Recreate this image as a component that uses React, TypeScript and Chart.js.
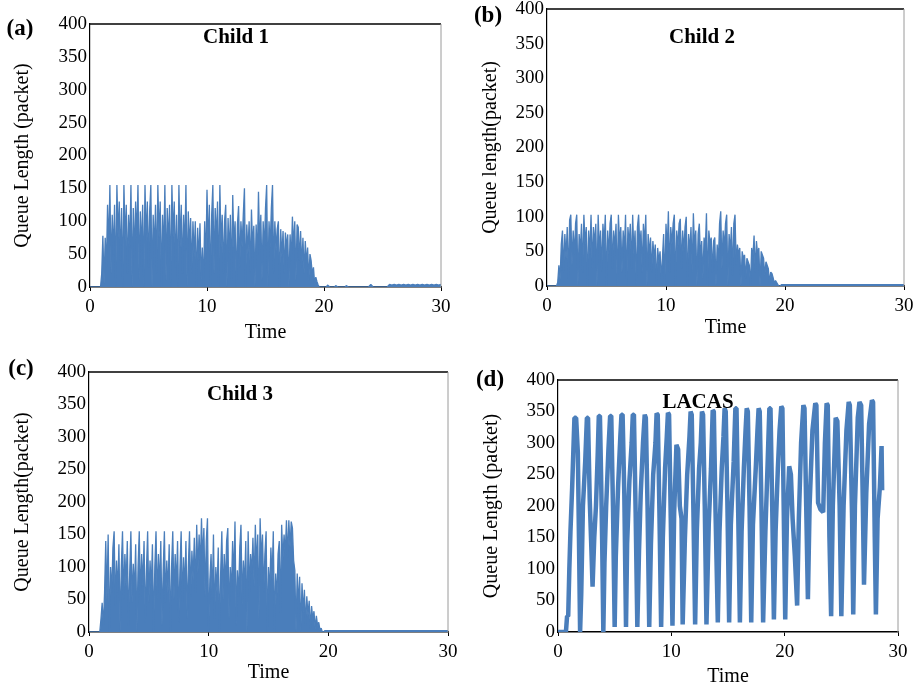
import React, { useEffect, useRef } from "react";
import { Chart, registerables } from "chart.js";
Chart.register(...registerables);

const BLUE = "#4A7EBB";
const FONT = '"Liberation Serif", "Times New Roman", serif';

const xTickValues = [0, 10, 20, 30];
const yTickValues = [0, 50, 100, 150, 200, 250, 300, 350, 400];

const sampleStep = 0.1;

// Child 1 — samples every 0.1 s starting at 0.9 s
const child1Start = 0.9;
const child1Queue = [
  0, 20, 78, 5, 75, 30, 125, 60, 155, 20, 110, 50, 125, 0, 155, 75, 130, 40, 120, 0,
  155, 70, 125, 20, 110, 60, 155, 0, 120, 45, 130, 75, 155, 10, 115, 55, 125, 0, 155, 70,
  130, 30, 115, 155, 0, 110, 55, 125, 20, 155, 75, 130, 0, 110, 50, 155, 10, 120, 65, 125,
  0, 155, 75, 130, 30, 110, 0, 155, 60, 125, 20, 110, 55, 155, 0, 115, 60, 105, 20, 100,
  45, 100, 0, 90, 40, 97, 10, 60, 0, 100, 35, 148, 60, 125, 0, 110, 155, 20, 120, 70,
  130, 0, 155, 60, 110, 20, 100, 125, 0, 105, 50, 110, 10, 140, 60, 100, 0, 95, 123, 30,
  100, 60, 110, 150, 0, 95, 50, 100, 20, 118, 60, 93, 0, 95, 40, 145, 65, 110, 10, 100,
  55, 120, 155, 0, 100, 60, 120, 155, 20, 100, 55, 88, 100, 0, 88, 45, 85, 20, 83, 60,
  80, 0, 80, 40, 107, 60, 100, 10, 95, 91, 40, 85, 30, 75, 20, 70, 35, 60, 10, 50,
  40, 20, 30, 5, 15, 8, 3, 0,
];
const child1IdleTime = [0, 19.8, 20.2, 20.3, 20.5, 20.9, 21.0, 21.2, 21.8, 21.9, 22.1, 23.8, 24.0, 24.2, 25.4, 25.6, 25.8, 26.0, 26.2, 26.4, 26.6, 26.8, 27.0, 27.2, 27.4, 27.6, 27.8, 28.0, 28.2, 28.4, 28.6, 28.8, 29.0, 29.2, 29.4, 29.6, 29.8, 30];
const child1IdleQueue = [0, 0, 0, 3, 0, 0, 2, 0, 0, 2, 0, 0, 4, 0, 0, 4, 3, 4, 3, 4, 3, 4, 3, 4, 3, 4, 3, 4, 3, 4, 3, 4, 3, 4, 3, 4, 3, 4];

// Child 2 — samples every 0.1 s starting at 0.8 s
const child2Start = 0.8;
const child2Queue = [
  0, 5, 30, 10, 60, 80, 20, 75, 40, 85, 10, 95, 103, 30, 80, 45, 90, 103, 0, 75,
  50, 90, 20, 103, 60, 85, 0, 80, 45, 103, 25, 85, 60, 90, 0, 103, 50, 80, 20, 90,
  60, 103, 0, 80, 45, 90, 103, 25, 80, 55, 90, 0, 103, 60, 85, 20, 80, 50, 103, 0,
  85, 60, 90, 25, 103, 45, 80, 0, 85, 103, 55, 80, 20, 90, 60, 103, 0, 75, 45, 70,
  20, 65, 40, 60, 0, 55, 35, 50, 10, 40, 75, 0, 90, 50, 108, 20, 85, 60, 90, 103,
  0, 80, 55, 90, 97, 25, 80, 50, 85, 100, 0, 75, 50, 85, 20, 105, 55, 80, 0, 75,
  90, 40, 65, 10, 70, 50, 105, 0, 80, 60, 70, 20, 65, 70, 0, 60, 35, 90, 108, 25,
  80, 55, 90, 103, 0, 75, 50, 85, 15, 90, 103, 30, 60, 45, 55, 0, 50, 40, 45, 10,
  40, 35, 30, 0, 55, 40, 73, 20, 65, 45, 55, 0, 50, 45, 40, 15, 35, 30, 25, 5,
  20, 18, 12, 4, 8, 5, 2, 0,
];
const child2IdleTime = [0, 19.6, 19.7, 30];
const child2IdleQueue = [0, 0, 2, 2];

// Child 3 — samples every 0.1 s starting at 0.9 s
const child3Start = 0.9;
const child3Queue = [
  0, 20, 45, 10, 60, 140, 50, 150, 0, 100, 60, 130, 155, 40, 110, 60, 135, 0, 100, 155,
  50, 120, 70, 140, 10, 90, 155, 45, 105, 60, 135, 0, 100, 155, 50, 120, 70, 140, 15, 95,
  155, 45, 110, 65, 135, 0, 100, 155, 50, 120, 70, 140, 10, 95, 155, 45, 110, 60, 135, 0,
  100, 155, 50, 120, 70, 140, 15, 95, 155, 45, 115, 65, 140, 20, 100, 155, 55, 125, 80, 145,
  60, 165, 90, 150, 100, 175, 110, 160, 55, 140, 175, 0, 80, 120, 50, 150, 20, 100, 60, 130,
  0, 90, 155, 50, 120, 70, 140, 160, 20, 100, 60, 140, 80, 170, 10, 95, 55, 130, 165, 40,
  110, 70, 140, 0, 155, 60, 120, 90, 145, 70, 165, 100, 150, 20, 175, 110, 150, 60, 120, 155,
  0, 100, 60, 130, 80, 155, 0, 90, 50, 120, 140, 30, 165, 110, 150, 120, 172, 115, 172, 130,
  170, 160, 110, 95, 0, 90, 40, 85, 0, 75, 30, 65, 10, 55, 25, 48, 5, 40, 20, 32,
  5, 25, 10, 15, 3, 6, 0,
];
const child3IdleTime = [0, 19.6, 19.7, 30];
const child3IdleQueue = [0, 0, 2, 2];

// LACAS
const lacasTime = [
  0, 0.7, 0.8, 0.9, 1.0, 1.1, 1.25, 1.45, 1.6, 1.75, 1.85, 1.95,
  2.05, 2.2, 2.4, 2.55, 2.65, 2.8, 2.95, 3.05, 3.2, 3.35, 3.5, 3.6, 3.7, 3.8, 3.9, 4.0,
  4.1, 4.25, 4.45, 4.6, 4.7, 4.85, 5.0, 5.1, 5.3, 5.5, 5.6, 5.7, 5.85, 6.0,
  6.1, 6.3, 6.5, 6.6, 6.7, 6.85, 7.0, 7.15, 7.3, 7.5, 7.65, 7.75, 7.9, 8.05,
  8.2, 8.4, 8.6, 8.7, 8.8, 8.95, 9.1, 9.25, 9.45, 9.6, 9.7, 9.8, 9.95, 10.1,
  10.25, 10.45, 10.6, 10.75, 10.9, 11.0, 11.2, 11.4, 11.6, 11.7, 11.8, 11.95, 12.1,
  12.25, 12.45, 12.6, 12.7, 12.8, 12.95, 13.1, 13.3, 13.5, 13.65, 13.75, 13.9, 14.1,
  14.25, 14.45, 14.6, 14.7, 14.8, 14.95, 15.1, 15.25, 15.5, 15.65, 15.75, 15.9, 16.05,
  16.2, 16.4, 16.55, 16.65, 16.75, 16.9, 17.05, 17.2, 17.45, 17.6, 17.7, 17.8, 17.95, 18.1,
  18.3, 18.5, 18.65, 18.75, 18.9, 19.05, 19.2, 19.4, 19.55, 19.7, 19.8, 19.95, 20.05,
  20.2, 20.4, 20.55, 20.7, 20.9, 21.1, 21.25, 21.45, 21.65, 21.75, 21.9, 22.05,
  22.2, 22.45, 22.7, 22.8, 22.95, 23.15, 23.4, 23.55, 23.7, 23.8, 23.95, 24.1,
  24.25, 24.5, 24.65, 24.85, 25.0, 25.2, 25.45, 25.65, 25.75, 25.95, 26.05,
  26.2, 26.45, 26.6, 26.75, 26.9, 27.0, 27.2, 27.45, 27.7, 27.8, 27.95, 28.05,
  28.2, 28.4, 28.55, 28.6,
];
const lacasQueue = [
  0, 0, 25, 25, 100, 160, 230, 340, 340, 285, 150, 0,
  60, 200, 270, 340, 340, 210, 130, 72, 150, 200, 280, 343, 343, 250, 140, 0,
  110, 200, 290, 343, 343, 200, 8, 120, 230, 310, 345, 345, 220, 8,
  140, 240, 300, 345, 345, 190, 8, 130, 220, 300, 345, 340, 200, 8,
  140, 250, 300, 347, 345, 190, 8, 150, 260, 310, 348, 345, 180, 10,
  190, 297, 290, 200, 180, 12, 150, 250, 310, 350, 345, 190, 12,
  160, 260, 300, 350, 345, 200, 12, 170, 260, 352, 350, 190, 15,
  160, 260, 310, 355, 350, 200, 15, 170, 270, 355, 355, 190, 15,
  160, 260, 320, 355, 350, 200, 15, 170, 260, 320, 355, 350, 200, 15,
  160, 270, 355, 355, 200, 20, 160, 260, 320, 358, 355, 150, 20,
  180, 263, 250, 180, 120, 42, 180, 300, 360, 355, 200, 52,
  200, 320, 363, 360, 205, 195, 190, 300, 363, 360, 150, 25,
  200, 340, 335, 200, 25, 200, 320, 365, 360, 180, 28,
  200, 340, 365, 360, 200, 75, 220, 330, 368, 365, 150, 28,
  180, 230, 295, 225,
];

type Pt = { x: number; y: number };

function sampled(start: number, values: number[], idleT: number[], idleQ: number[]): Pt[] {
  const pts: Pt[] = values.map((v, i) => ({ x: +(start + i * sampleStep).toFixed(2), y: v }));
  idleT.forEach((t, i) => pts.push({ x: t, y: idleQ[i] }));
  pts.sort((a, b) => a.x - b.x);
  return pts;
}

type PanelCfg = {
  left: number; top: number; width: number; height: number;
  yAxisWidth: number; xAxisHeight: number; padTop: number; padRight: number;
  yTitle: string; yTitlePad: number; xTitlePad: number;
  title: string; titleX: number; titleY: number;
  label: string; labelX: number; labelY: number;
  points: Pt[]; lineWidth: number; filled: boolean;
};

const panels: PanelCfg[] = [
  {
    left: 0, top: 0, width: 460, height: 345, yAxisWidth: 90, xAxisHeight: 58, padTop: 24, padRight: 19,
    yTitle: "Queue Length (packet)", yTitlePad: 11, xTitlePad: 0,
    title: "Child 1", titleX: 236, titleY: 38, label: "(a)", labelX: 20, labelY: 29,
    points: sampled(child1Start, child1Queue, child1IdleTime, child1IdleQueue), lineWidth: 1.3, filled: true,
  },
  {
    left: 458, top: 0, width: 459, height: 345, yAxisWidth: 89, xAxisHeight: 59, padTop: 9, padRight: 13,
    yTitle: "Queue length(packet)", yTitlePad: 21, xTitlePad: 5,
    title: "Child 2", titleX: 244, titleY: 38, label: "(b)", labelX: 30, labelY: 16,
    points: sampled(child2Start, child2Queue, child2IdleTime, child2IdleQueue), lineWidth: 1.3, filled: true,
  },
  {
    left: 0, top: 345, width: 460, height: 345, yAxisWidth: 89, xAxisHeight: 58, padTop: 27, padRight: 12,
    yTitle: "Queue Length(packet)", yTitlePad: 11, xTitlePad: 5,
    title: "Child 3", titleX: 240, titleY: 50, label: "(c)", labelX: 21, labelY: 24,
    points: sampled(child3Start, child3Queue, child3IdleTime, child3IdleQueue), lineWidth: 1.3, filled: true,
  },
  {
    left: 458, top: 345, width: 459, height: 345, yAxisWidth: 100, xAxisHeight: 58, padTop: 35, padRight: 19,
    yTitle: "Queue Length (packet)", yTitlePad: 22, xTitlePad: 1,
    title: "LACAS", titleX: 240, titleY: 58, label: "(d)", labelX: 32, labelY: 35,
    points: lacasTime.map((t, i) => ({ x: t, y: lacasQueue[i] })), lineWidth: 4.5, filled: false,
  },
];

function Panel({ cfg }: { cfg: PanelCfg }) {
  const ref = useRef<HTMLCanvasElement | null>(null);
  useEffect(() => {
    const canvas = ref.current;
    if (!canvas) return;
    const decor = {
      id: "decor",
      afterDraw(chart: any) {
        const ctx = chart.ctx as CanvasRenderingContext2D;
        const { left, right, top, bottom } = chart.chartArea;
        ctx.save();
        ctx.strokeStyle = "#000";
        ctx.lineWidth = 1.5;
        ctx.beginPath();
        ctx.moveTo(left, top);
        ctx.lineTo(right, top);
        ctx.stroke();
        ctx.strokeStyle = "#9a9a9a";
        ctx.lineWidth = 1;
        ctx.beginPath();
        ctx.moveTo(right, top);
        ctx.lineTo(right, bottom);
        ctx.stroke();
        ctx.fillStyle = "#000";
        ctx.textAlign = "center";
        ctx.textBaseline = "middle";
        ctx.font = `bold 21px ${FONT}`;
        ctx.fillText(cfg.title, cfg.titleX, cfg.titleY);
        ctx.font = `bold 23px ${FONT}`;
        ctx.fillText(cfg.label, cfg.labelX, cfg.labelY);
        ctx.restore();
      },
    };
    const tickFont = { family: FONT, size: 19 };
    const titleFont = { family: FONT, size: 20 };
    const chart = new Chart(canvas, {
      type: "line",
      data: {
        datasets: [
          {
            data: cfg.points as any,
            borderColor: BLUE,
            backgroundColor: BLUE,
            borderWidth: cfg.lineWidth,
            pointRadius: 0,
            tension: 0,
            fill: cfg.filled ? "origin" : false,
            borderJoinStyle: "bevel",
          },
        ],
      },
      options: {
        animation: false,
        responsive: false,
        maintainAspectRatio: false,
        events: [],
        layout: { padding: { top: cfg.padTop, right: cfg.padRight, left: 0, bottom: 0 } },
        plugins: {
          legend: { display: false },
          tooltip: { enabled: false },
          title: { display: false },
          filler: { propagate: false },
        },
        scales: {
          x: {
            type: "linear",
            min: 0,
            max: 30,
            afterBuildTicks: (s: any) => {
              s.ticks = xTickValues.map((v) => ({ value: v }));
            },
            grid: { display: true, drawOnChartArea: false, drawTicks: true, tickLength: 4, color: "#000" },
            border: { display: true, color: "#000", width: 1.5 },
            ticks: { font: tickFont, color: "#000", padding: 5, maxRotation: 0, autoSkip: false },
            title: { display: true, text: "Time", font: titleFont, color: "#000", padding: { top: 0, bottom: cfg.xTitlePad } },
            afterFit: (s: any) => {
              s.height = cfg.xAxisHeight;
              s.paddingLeft = 0;
              s.paddingRight = 0;
            },
          },
          y: {
            type: "linear",
            min: 0,
            max: 400,
            afterBuildTicks: (s: any) => {
              s.ticks = yTickValues.map((v) => ({ value: v }));
            },
            grid: { display: false, drawTicks: false },
            border: { display: true, color: "#000", width: 1.2 },
            ticks: { font: tickFont, color: "#000", padding: 3, autoSkip: false },
            title: { display: true, text: cfg.yTitle, font: titleFont, color: "#000", padding: { top: cfg.yTitlePad, bottom: 0 } },
            afterFit: (s: any) => {
              s.width = cfg.yAxisWidth;
              s.paddingTop = 0;
              s.paddingBottom = 0;
            },
          },
        },
      } as any,
      plugins: [decor],
    });
    return () => chart.destroy();
  }, [cfg]);
  return (
    <canvas
      ref={ref}
      width={cfg.width}
      height={cfg.height}
      style={{ position: "absolute", left: cfg.left, top: cfg.top, width: cfg.width, height: cfg.height }}
    />
  );
}

export default function App() {
  return (
    <div style={{ position: "absolute", left: 0, top: 0, width: 917, height: 690, background: "#fff", overflow: "hidden" }}>
      {panels.map((p, i) => (
        <Panel key={i} cfg={p} />
      ))}
    </div>
  );
}
